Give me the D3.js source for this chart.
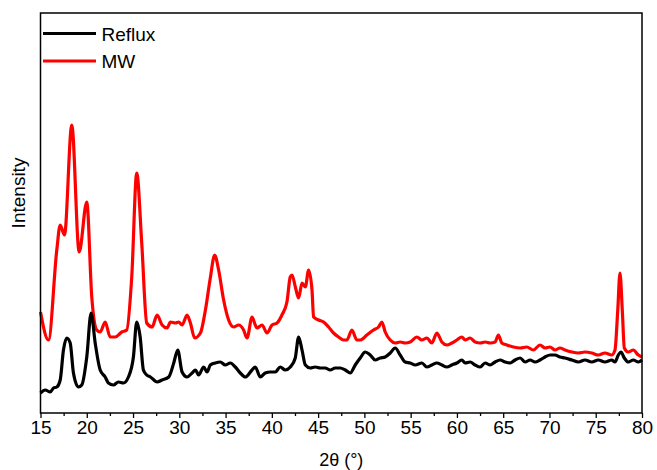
<!DOCTYPE html>
<html>
<head>
<meta charset="utf-8">
<script src="https://cdn.jsdelivr.net/npm/d3@7"></script>
<style>
  body { margin: 0; background: #fff; }
  svg { display: block; font-family: "Liberation Sans", Arial, sans-serif; }
</style>
</head>
<body>
<div id="graph"></div>
<script>
var margin = {top: 13, right: 15, bottom: 57, left: 40.5},
    width = 657 - margin.left - margin.right,
    height = 470 - margin.top - margin.bottom;

// 2theta positions (deg) and intensities (a.u.)
var mwTheta = [15.00, 15.86, 16.76, 17.13, 17.59, 18.38, 19.18, 20.00, 20.54, 21.08,
  21.45, 21.99, 22.53, 23.07, 23.78, 24.32, 24.86, 25.40, 25.94, 26.48,
  27.06, 27.60, 28.14, 28.68, 29.04, 29.58, 29.93, 30.30, 30.84, 31.20,
  31.66, 32.28, 32.82, 33.35, 33.82, 34.25, 34.79, 35.33, 35.87, 36.41,
  36.95, 37.32, 37.86, 38.21, 38.40, 38.94, 39.48, 40.02, 40.56, 41.09,
  41.63, 41.99, 42.18, 42.54, 42.89, 43.26, 43.62, 43.97, 44.34, 44.51,
  45.05, 45.59, 46.13, 46.67, 47.21, 47.75, 48.11, 48.65, 49.19, 49.55,
  50.27, 50.99, 51.53, 51.89, 52.25, 52.79, 53.33, 53.87, 54.41, 54.95,
  55.67, 56.21, 56.75, 57.29, 57.83, 58.37, 58.91, 59.45, 59.99, 60.53,
  60.89, 61.43, 61.97, 62.51, 63.05, 63.59, 64.13, 64.48, 64.85, 65.39,
  66.10, 66.83, 67.55, 68.26, 68.98, 69.52, 70.06, 70.60, 71.14, 71.68,
  72.41, 73.12, 73.84, 74.57, 75.28, 76.00, 76.73, 77.08, 77.38, 77.62,
  77.87, 78.09, 78.52, 79.06, 79.60, 80.00];
var mwValues = [101, 73, 163, 188, 178, 288, 161, 211, 116, 83,
  81, 91, 76, 76, 81, 83, 136, 240, 170, 90,
  86, 98, 88, 85, 91, 90, 91, 88, 98, 90,
  75, 80, 103, 135, 158, 143, 113, 93, 86, 88,
  83, 75, 96, 88, 85, 88, 80, 88, 90, 98,
  111, 136, 138, 126, 115, 130, 126, 143, 123, 96,
  93, 91, 86, 80, 76, 73, 73, 83, 73, 73,
  78, 83, 86, 91, 81, 73, 70, 71, 70, 71,
  76, 73, 75, 70, 80, 71, 68, 70, 73, 76,
  73, 75, 71, 70, 71, 70, 71, 78, 70, 68,
  66, 65, 66, 63, 68, 65, 66, 63, 65, 63,
  61, 60, 61, 60, 58, 60, 58, 63, 103, 140,
  103, 65, 61, 63, 58, 56];

var refluxTheta = [15.00, 15.51, 16.05, 16.40, 16.76, 17.13, 17.48, 17.84, 18.21, 18.56,
  19.10, 19.46, 20.00, 20.47, 20.91, 21.45, 21.99, 22.34, 22.88, 23.42,
  23.96, 24.50, 25.04, 25.40, 25.77, 26.12, 26.48, 26.88, 27.60, 28.14,
  28.86, 29.40, 29.83, 30.30, 30.84, 31.38, 31.74, 32.09, 32.63, 33.00,
  33.35, 33.89, 34.43, 34.97, 35.51, 36.05, 36.59, 37.13, 37.86, 38.21,
  38.75, 39.29, 39.83, 40.37, 40.91, 41.45, 42.00, 42.53, 42.89, 43.26,
  43.62, 44.15, 44.69, 45.23, 45.77, 46.31, 46.85, 47.39, 47.93, 48.47,
  49.01, 49.55, 50.09, 50.63, 51.17, 51.71, 52.25, 52.79, 53.33, 53.87,
  54.41, 54.95, 55.49, 56.21, 56.75, 57.29, 57.83, 58.37, 58.91, 59.45,
  59.99, 60.53, 60.89, 61.43, 61.97, 62.51, 63.05, 63.59, 64.13, 64.67,
  65.21, 65.75, 66.29, 66.83, 67.37, 67.91, 68.44, 68.98, 69.52, 70.06,
  70.60, 71.14, 71.68, 72.41, 73.12, 73.84, 74.57, 75.28, 76.00, 76.73,
  77.08, 77.44, 77.73, 78.09, 78.52, 79.06, 79.60, 80.00];
var refluxValues = [20, 23, 21, 25, 26, 33, 63, 75, 70, 40,
  26, 28, 56, 100, 70, 43, 36, 30, 28, 31,
  30, 36, 56, 91, 76, 43, 38, 36, 31, 33,
  36, 50, 63, 41, 36, 40, 43, 38, 46, 41,
  48, 50, 51, 48, 50, 46, 40, 36, 43, 46,
  36, 40, 41, 41, 46, 43, 46, 55, 76, 63,
  48, 45, 46, 45, 45, 43, 45, 45, 43, 40,
  48, 55, 61, 58, 53, 55, 56, 60, 65, 58,
  51, 50, 48, 50, 46, 48, 50, 48, 46, 48,
  50, 53, 50, 51, 48, 46, 50, 48, 51, 53,
  51, 50, 53, 55, 51, 53, 51, 53, 56, 58,
  58, 56, 55, 53, 51, 53, 51, 53, 51, 53,
  51, 58, 61, 55, 51, 53, 51, 53];

var xTicks = [15, 20, 25, 30, 35, 40, 45, 50, 55, 60, 65, 70, 75, 80];
var seriesNames = ["Reflux", "MW"];
var seriesColors = ["#000000", "#ff0000"];

var svg = d3.select("#graph").append("svg")
    .attr("width", width + margin.left + margin.right)
    .attr("height", height + margin.top + margin.bottom)
  .append("g")
    .attr("transform", "translate(" + margin.left + "," + margin.top + ")");

var x = d3.scaleLinear().domain([15, 80]).range([0, width]);
var y = d3.scaleLinear().domain([0, 400]).range([height, 0]);

var line = d3.line()
    .curve(d3.curveMonotoneX)
    .x(function(d) { return x(d[0]); })
    .y(function(d) { return y(d[1]); });

var series = [
  d3.zip(refluxTheta, refluxValues),
  d3.zip(mwTheta, mwValues)
];

// draw MW first so Reflux sits on top where they touch
[1, 0].forEach(function(i) {
  svg.append("path")
      .datum(series[i])
      .attr("fill", "none")
      .attr("stroke", seriesColors[i])
      .attr("stroke-width", 3.2)
      .attr("stroke-linejoin", "round")
      .attr("d", line);
});

// minor ticks
svg.append("g")
    .attr("transform", "translate(0," + height + ")")
    .call(d3.axisBottom(x).tickValues(d3.range(17.5, 80, 5)).tickSize(3).tickFormat(""))
    .call(function(g) { g.select(".domain").remove(); })
    .selectAll("line").attr("stroke-width", 1.3);

var xAxis = svg.append("g")
    .attr("transform", "translate(0," + height + ")")
    .call(d3.axisBottom(x).tickValues(xTicks).tickSize(5).tickPadding(3).tickFormat(d3.format("d")));
xAxis.select(".domain").remove();
xAxis.selectAll("line").attr("stroke-width", 1.3);
xAxis.selectAll("text")
    .attr("font-size", "19px")
    .attr("font-family", "'Liberation Sans', Arial, sans-serif")
    .attr("fill", "#000");

// frame
svg.append("rect")
    .attr("width", width)
    .attr("height", height)
    .attr("fill", "none")
    .attr("stroke", "#000")
    .attr("stroke-width", 1.5);

svg.append("text")
    .attr("x", width / 2)
    .attr("y", height + 53)
    .attr("text-anchor", "middle")
    .attr("font-size", "18px")
    .text("2θ (°)");

svg.append("text")
    .attr("transform", "translate(-16," + 180 + ") rotate(-90)")
    .attr("text-anchor", "middle")
    .attr("font-size", "19px")
    .text("Intensity");

// legend
var legend = svg.selectAll(".legend")
    .data(seriesNames)
  .enter().append("g")
    .attr("class", "legend")
    .attr("transform", function(d, i) { return "translate(0," + (20.5 + i * 27.5) + ")"; });

legend.append("line")
    .attr("x1", 2.5)
    .attr("x2", 55.5)
    .attr("stroke", function(d, i) { return seriesColors[i]; })
    .attr("stroke-width", 3);

legend.append("text")
    .attr("x", 61)
    .attr("y", 7)
    .attr("font-size", "19px")
    .text(function(d) { return d; });
</script>
</body>
</html>
